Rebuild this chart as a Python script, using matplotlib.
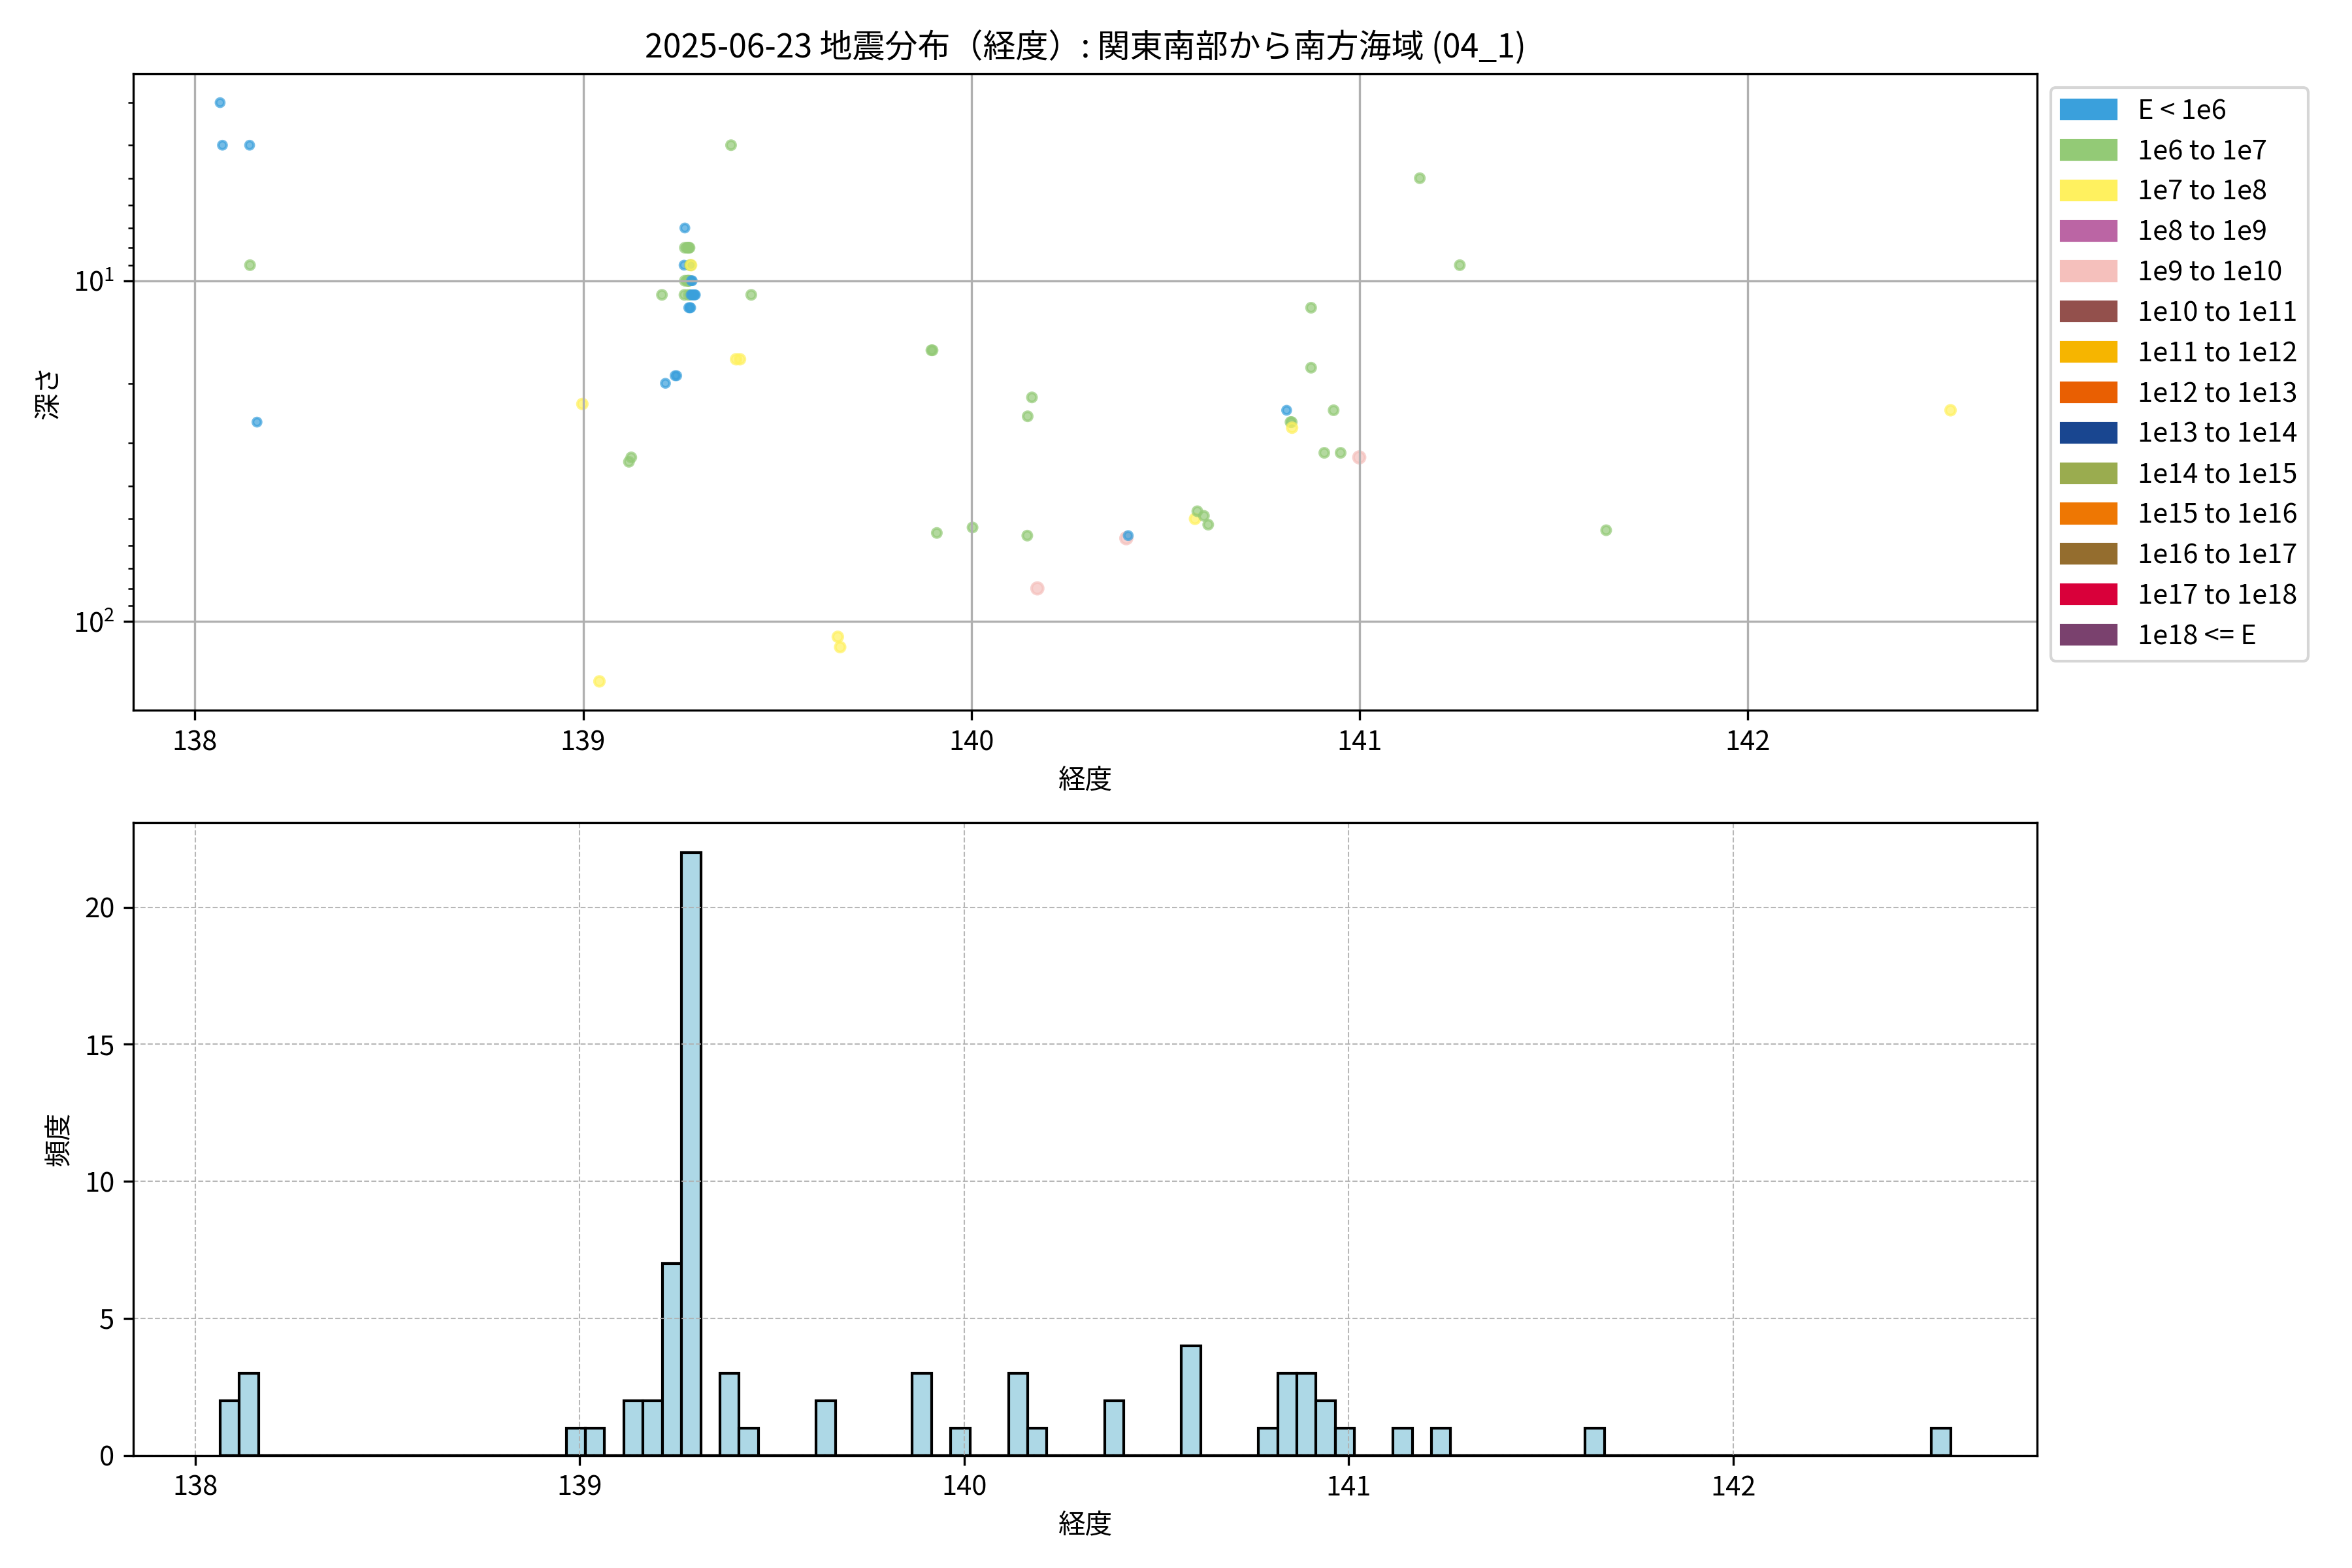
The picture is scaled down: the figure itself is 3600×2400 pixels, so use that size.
import numpy as np
import matplotlib
matplotlib.use('Agg')
import matplotlib.pyplot as plt
from matplotlib.patches import Patch

plt.rcParams['font.family'] = ['Noto Sans CJK JP', 'DejaVu Sans']

# energy classes for the legend
class_labels = ['E < 1e6', '1e6 to 1e7', '1e7 to 1e8', '1e8 to 1e9', '1e9 to 1e10',
                '1e10 to 1e11', '1e11 to 1e12', '1e12 to 1e13', '1e13 to 1e14',
                '1e14 to 1e15', '1e15 to 1e16', '1e16 to 1e17', '1e17 to 1e18', '1e18 <= E']
class_colors = ['#3aa0dc', '#93ca76', '#fff15f', '#bb65a4', '#f5c0bc', '#93504c', '#f6b500',
                '#e95f02', '#194690', '#9aac4f', '#ee7703', '#946d2e', '#d9003a', '#7a416e']
class_sizes = [9, 11, 13, 15, 18, 21, 24, 27, 30, 33, 36, 39, 42, 45]

# events
lon = [138.065, 138.071, 138.141, 138.142, 138.160, 138.998, 139.042, 139.118, 139.124,
       139.203, 139.212, 139.237, 139.241, 139.260, 139.261, 139.262, 139.262, 139.262,
       139.268, 139.270, 139.272, 139.274, 139.275, 139.277, 139.278, 139.268, 139.270,
       139.272, 139.274, 139.279, 139.281, 139.272, 139.278, 139.281, 139.284, 139.287,
       139.289, 139.272, 139.275, 139.277,
       139.381, 139.394, 139.404, 139.433, 139.656, 139.662, 139.897, 139.900, 139.911,
       140.003, 140.144, 140.145, 140.156, 140.170, 140.399, 140.404, 140.576, 140.582,
       140.599, 140.610, 140.812, 140.822, 140.825, 140.826, 140.875, 140.875, 140.909,
       140.933, 140.951, 140.999, 141.155, 141.258, 141.635, 142.522]
depth = [3.0, 4.0, 4.0, 9.0, 26.0, 23.0, 150.0, 34.0, 33.0,
         11.0, 20.0, 19.0, 19.0, 9.0, 11.0, 10.0, 8.0, 7.0,
         8.0, 8.0, 8.0, 8.0, 9.0, 9.0, 9.0, 10.0, 10.0,
         10.0, 10.0, 10.0, 10.0, 11.0, 11.0, 11.0, 11.0, 11.0,
         11.0, 12.0, 12.0, 12.0,
         4.0, 17.0, 17.0, 11.0, 111.0, 119.0, 16.0, 16.0, 55.0,
         53.0, 56.0, 25.0, 22.0, 80.0, 57.0, 56.0, 50.0, 47.5,
         49.0, 52.0, 24.0, 26.0, 26.0, 27.0, 12.0, 18.0, 32.0,
         24.0, 32.0, 33.0, 5.0, 9.0, 54.0, 24.0]
energy_class = [0, 0, 0, 1, 0, 2, 2, 1, 1,
                1, 0, 0, 0, 0, 1, 1, 1, 0,
                1, 1, 1, 1, 1, 1, 2, 1, 1,
                1, 1, 0, 0, 1, 0, 0, 0, 0,
                0, 0, 0, 0,
                1, 2, 2, 1, 2, 2, 1, 1, 1,
                1, 1, 1, 1, 4, 4, 0, 2, 1,
                1, 1, 0, 1, 1, 2, 1, 1, 1,
                1, 1, 4, 1, 1, 1, 2]

lon = np.array(lon)
depth = np.array(depth)
colors = [class_colors[c] for c in energy_class]
sizes = [class_sizes[c] for c in energy_class]

fig = plt.figure(figsize=(12, 8), dpi=300)
ax1 = fig.add_axes([0.0568, 0.547, 0.8093, 0.406])
ax2 = fig.add_axes([0.0568, 0.0718, 0.8093, 0.4038])

# depth vs longitude
ax1.scatter(lon, depth, c=colors, s=sizes, alpha=0.7, linewidths=1.0)
ax1.set_yscale('log')
ax1.invert_yaxis()
ax1.grid(True)
ax1.set_xlabel('経度')
ax1.set_ylabel('深さ')
ax1.set_title('2025-06-23 地震分布（経度）: 関東南部から南方海域 (04_1)', fontsize=12)
handles = [Patch(color=col, label=lab) for col, lab in zip(class_colors, class_labels)]
ax1.legend(handles=handles, loc='upper left', bbox_to_anchor=(1.0, 1.0))

# histogram of longitudes
bins = np.arange(lon.min(), lon.max() + 0.05, 0.05)
ax2.hist(lon, bins=bins, color='lightblue', edgecolor='black')
ax2.grid(True, linestyle='--', linewidth=0.5, alpha=0.9)
ax2.set_xlabel('経度')
ax2.set_ylabel('頻度')

fig.savefig('out.png', dpi=300)
